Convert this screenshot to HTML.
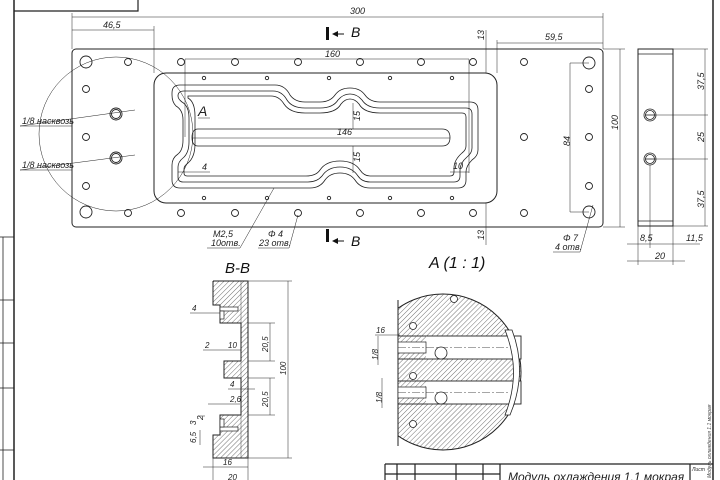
<!DOCTYPE html>
<html><head><meta charset="utf-8"><style>html,body{margin:0;padding:0;background:#fff}svg{display:block}</style></head><body>
<svg width="720" height="480" viewBox="0 0 720 480" xmlns="http://www.w3.org/2000/svg" font-family="Liberation Sans, sans-serif" font-style="italic" fill="none" stroke="#222" stroke-width="0.8">
<defs>
<pattern id="h" width="3.5" height="3.5" patternUnits="userSpaceOnUse" patternTransform="rotate(45)"><line x1="0" y1="0" x2="0" y2="3.5" stroke="#333" stroke-width="0.7"/></pattern>
</defs>
<!-- frame -->
<line x1="14" y1="0" x2="14" y2="480" stroke-width="1.5"/>
<polyline points="14,11 138,11 138,0" stroke-width="1.2"/>
<line x1="713" y1="0" x2="713" y2="480" stroke-width="1.5"/>
<line x1="0" y1="237" x2="14" y2="237"/><line x1="0" y1="300" x2="14" y2="300"/><line x1="0" y1="343" x2="14" y2="343"/><line x1="0" y1="388" x2="14" y2="388"/><line x1="0" y1="450" x2="14" y2="450"/>
<line x1="3" y1="237" x2="3" y2="480"/>
<!-- main plate -->
<rect x="72" y="49" width="531" height="178" rx="4" stroke-width="1"/>
<rect x="154" y="73" width="343" height="130" rx="12" stroke-width="1"/>
<!-- groove -->
<path d="M180,85 H275 Q285,85 290,95 Q295,102 305,102 H320 Q330,102 335,95 Q340,88 350,88 Q360,88 365,95 Q370,102 380,102 H470 Q478,102 478,110 V150 Q478,156 472,160 Q466,166 466,172 V180 Q466,188 458,188 H370 Q360,188 355,180 Q350,173 340,173 Q330,173 325,180 Q320,188 310,188 H180 Q172,188 172,180 V165 Q172,158 178,154 Q183,150 183,140 V120 Q183,110 176,106 Q172,102 172,95 V93 Q172,85 180,85 Z"/>
<path d="M184,91 H273 Q282,91 287,100 Q292,108 305,108 H320 Q333,108 338,100 Q343,94 350,94 Q357,94 362,100 Q367,108 380,108 H466 Q472,108 472,114 V148 Q472,153 467,157 Q460,163 460,170 V176 Q460,182 454,182 H370 Q362,182 358,176 Q352,167 340,167 Q328,167 322,176 Q317,182 308,182 H183 Q178,182 178,177 V167 Q178,162 183,158 Q189,153 189,142 V118 Q189,106 182,102 Q178,99 178,96 Q178,91 184,91 Z"/>
<path d="M188,96 H271 Q279,96 284,104 Q290,113 305,113 H320 Q336,113 341,104 Q345,99 350,99 Q355,99 359,104 Q364,113 380,113 H462 Q466,113 466,117 V146 Q466,150 462,153 Q454,160 454,168 V172 Q454,176 450,176 H370 Q364,176 360,170 Q354,161 340,161 Q326,161 320,170 Q316,176 306,176 H187 Q184,176 184,173 V169 Q184,166 188,163 Q195,157 195,144 V116 Q195,102 188,98 Z"/>
<!-- slot -->
<path d="M198,129 H442 Q450,129 450,137.5 Q450,146 442,146 H198 Q192,146 192,137.5 Q192,129 198,129 Z"/>
<!-- holes -->
<g stroke-width="0.9">
<circle cx="86" cy="62" r="6"/><circle cx="86" cy="212" r="6"/><circle cx="589" cy="63" r="6"/><circle cx="589" cy="212" r="6"/>
<circle cx="128" cy="62" r="3.5"/><circle cx="181" cy="62" r="3.5"/><circle cx="235" cy="62" r="3.5"/><circle cx="298" cy="62" r="3.5"/><circle cx="360" cy="62" r="3.5"/><circle cx="421" cy="62" r="3.5"/><circle cx="473" cy="62" r="3.5"/><circle cx="524" cy="62" r="3.5"/>
<circle cx="128" cy="213" r="3.5"/><circle cx="181" cy="213" r="3.5"/><circle cx="235" cy="213" r="3.5"/><circle cx="298" cy="213" r="3.5"/><circle cx="360" cy="213" r="3.5"/><circle cx="421" cy="213" r="3.5"/><circle cx="473" cy="213" r="3.5"/><circle cx="524" cy="213" r="3.5"/>
<circle cx="86" cy="89" r="3.5"/><circle cx="86" cy="137" r="3.5"/><circle cx="86" cy="186" r="3.5"/>
<circle cx="589" cy="89" r="3.5"/><circle cx="589" cy="137" r="3.5"/><circle cx="589" cy="186" r="3.5"/><circle cx="524" cy="137" r="3.5"/>
<circle cx="204" cy="78" r="1.7"/><circle cx="267" cy="78" r="1.7"/><circle cx="329" cy="78" r="1.7"/><circle cx="390" cy="78" r="1.7"/><circle cx="452" cy="78" r="1.7"/>
<circle cx="204" cy="198" r="1.7"/><circle cx="267" cy="198" r="1.7"/><circle cx="329" cy="198" r="1.7"/><circle cx="390" cy="198" r="1.7"/><circle cx="452" cy="198" r="1.7"/>
<circle cx="116" cy="114" r="6"/><circle cx="116" cy="114" r="4.5"/><circle cx="116" cy="158" r="6"/><circle cx="116" cy="158" r="4.5"/>
</g>
<circle cx="116" cy="134" r="77" stroke-width="0.5"/>
<!-- dimensions -->
<g stroke-width="0.5" fill="#222" font-size="9">
<line x1="72" y1="17" x2="603" y2="17"/><line x1="72" y1="13" x2="72" y2="49"/><line x1="603" y1="13" x2="603" y2="49"/>
<text x="350" y="14" stroke="none">300</text>
<line x1="72" y1="30" x2="154" y2="30"/><line x1="154" y1="26" x2="154" y2="73"/>
<text x="103" y="28" stroke="none">46,5</text>
<line x1="497" y1="43" x2="603" y2="43"/><line x1="497" y1="40" x2="497" y2="73"/>
<text x="545" y="40" stroke="none">59,5</text>
<line x1="185" y1="59" x2="469" y2="59"/><line x1="185" y1="59" x2="185" y2="137"/><line x1="469" y1="59" x2="469" y2="173"/>
<text x="325" y="57" stroke="none">160</text>
<line x1="192" y1="138" x2="450" y2="138"/><text x="337" y="135" stroke="none">146</text>
<line x1="486" y1="30" x2="486" y2="73"/><line x1="486" y1="203" x2="486" y2="245"/>
<text x="0" y="0" transform="translate(484,40) rotate(-90)" stroke="none">13</text>
<text x="0" y="0" transform="translate(484,240) rotate(-90)" stroke="none">13</text>
<line x1="620" y1="49" x2="620" y2="227"/><line x1="603" y1="49" x2="625" y2="49"/><line x1="603" y1="227" x2="625" y2="227"/>
<text x="0" y="0" transform="translate(618,130) rotate(-90)" stroke="none">100</text>
<line x1="570" y1="63" x2="570" y2="212"/><line x1="570" y1="63" x2="589" y2="63"/><line x1="570" y1="212" x2="589" y2="212"/>
<text x="0" y="0" transform="translate(570,146) rotate(-90)" stroke="none">84</text>
<line x1="353" y1="103" x2="353" y2="129"/><line x1="353" y1="146" x2="353" y2="173"/>
<text x="0" y="0" transform="translate(360,121) rotate(-90)" stroke="none">15</text>
<text x="0" y="0" transform="translate(360,162) rotate(-90)" stroke="none">15</text>
<line x1="178" y1="172" x2="210" y2="172"/><text x="202" y="170" stroke="none">4</text>
<line x1="450" y1="172" x2="469" y2="172"/><text x="453" y="169" stroke="none">10</text>
<line x1="20" y1="126" x2="135" y2="110"/><line x1="20" y1="126" x2="72" y2="126"/><text x="22" y="124" stroke="none">1/8 насквозь</text>
<line x1="20" y1="170" x2="135" y2="155"/><line x1="20" y1="170" x2="72" y2="170"/><text x="22" y="168" stroke="none">1/8 насквозь</text>
<line x1="240" y1="248" x2="274" y2="188"/><line x1="207" y1="248" x2="240" y2="248"/><text x="213" y="237" stroke="none">M2,5</text><text x="211" y="246" stroke="none">10отв.</text>
<line x1="289" y1="248" x2="298" y2="215"/><line x1="258" y1="248" x2="289" y2="248"/><text x="268" y="237" stroke="none">Φ 4</text><text x="259" y="246" stroke="none">23 отв.</text>
<line x1="580" y1="252" x2="593" y2="205"/><line x1="553" y1="252" x2="580" y2="252"/><text x="563" y="241" stroke="none">Φ 7</text><text x="555" y="250" stroke="none">4 отв.</text>
<line x1="198" y1="118" x2="210" y2="118"/><text x="198" y="116" stroke="none" font-size="14">A</text>
</g>
<!-- section arrows -->
<g fill="#111" stroke="none"><rect x="326" y="27" width="3" height="13"/><rect x="326" y="229" width="3" height="13"/>
<polygon points="332,34 338,31 338,37"/><rect x="337" y="33.5" width="7" height="1"/>
<polygon points="332,241 338,238 338,244"/><rect x="337" y="240.5" width="7" height="1"/>
<text x="351" y="37" font-size="14">B</text><text x="351" y="246" font-size="14">B</text>
<text x="429" y="268" font-size="16">A (1 : 1)</text>
<text x="225" y="273" font-size="15">B-B</text></g>
<!-- side view -->
<rect x="638" y="49" width="35" height="177" stroke-width="1"/>
<line x1="638" y1="54" x2="673" y2="54"/><line x1="638" y1="221" x2="673" y2="221"/>
<circle cx="650" cy="115" r="6"/><circle cx="650" cy="115" r="4.5"/><line x1="645" y1="115" x2="656" y2="115"/>
<circle cx="650" cy="159" r="6"/><circle cx="650" cy="159" r="4.5"/><line x1="645" y1="159" x2="656" y2="159"/>
<g stroke-width="0.5" fill="#222" font-size="9">
<line x1="705" y1="49" x2="705" y2="226"/><line x1="673" y1="49" x2="708" y2="49"/><line x1="656" y1="115" x2="708" y2="115"/><line x1="656" y1="159" x2="708" y2="159"/><line x1="673" y1="226" x2="708" y2="226"/>
<text x="0" y="0" transform="translate(704,90) rotate(-90)" stroke="none">37,5</text>
<text x="0" y="0" transform="translate(704,142) rotate(-90)" stroke="none">25</text>
<text x="0" y="0" transform="translate(704,208) rotate(-90)" stroke="none">37,5</text>
<line x1="627" y1="244" x2="700" y2="244"/><line x1="650" y1="165" x2="650" y2="248"/><line x1="638" y1="226" x2="638" y2="265"/><line x1="673" y1="226" x2="673" y2="265"/>
<text x="640" y="241" stroke="none">8,5</text><text x="686" y="241" stroke="none">11,5</text>
<line x1="627" y1="261" x2="685" y2="261"/><text x="655" y="259" stroke="none">20</text>
</g>
<!-- section B-B -->
<rect x="213" y="281" width="35" height="177" fill="url(#h)" stroke="none"/>
<polygon points="212,305 220,305 220,323 241,323 241,361 224,361 224,378 241,378 241,415 220,415 220,435 212,435" fill="#fff" stroke="none"/>
<polyline points="213,281 248,281 248,458 213,458 213,435 220,435 220,415 241,415 241,378 224,378 224,361 241,361 241,323 220,323 220,305 213,305 213,281" stroke-width="1"/>
<rect x="220" y="307" width="18" height="4" fill="#fff" stroke-width="0.7"/>
<rect x="220" y="311" width="4" height="8" fill="#fff" stroke-width="0.7"/>
<rect x="220" y="427" width="18" height="4" fill="#fff" stroke-width="0.7"/>
<rect x="220" y="419" width="4" height="8" fill="#fff" stroke-width="0.7"/>
<line x1="241" y1="281" x2="241" y2="458" stroke-width="0.4"/>
<g stroke-width="0.5" fill="#222" font-size="8">
<line x1="248" y1="281" x2="292" y2="281"/><line x1="248" y1="458" x2="292" y2="458"/><line x1="288" y1="281" x2="288" y2="458"/>
<text x="0" y="0" transform="translate(286,375) rotate(-90)" stroke="none">100</text>
<line x1="248" y1="323" x2="275" y2="323"/><line x1="248" y1="361" x2="275" y2="361"/><line x1="270" y1="323" x2="270" y2="361"/>
<text x="0" y="0" transform="translate(268,352) rotate(-90)" stroke="none">20,5</text>
<line x1="248" y1="378" x2="275" y2="378"/><line x1="248" y1="415" x2="275" y2="415"/><line x1="270" y1="378" x2="270" y2="415"/>
<text x="0" y="0" transform="translate(268,407) rotate(-90)" stroke="none">20,5</text>
<line x1="190" y1="313" x2="220" y2="313"/><text x="192" y="311" stroke="none">4</text>
<line x1="203" y1="350" x2="241" y2="350"/><text x="205" y="348" stroke="none">2</text><text x="228" y="348" stroke="none">10</text>
<line x1="228" y1="389" x2="255" y2="389"/><text x="230" y="387" stroke="none">4</text>
<line x1="208" y1="404" x2="240" y2="404"/><text x="230" y="402" stroke="none">2,6</text>
<line x1="198" y1="416" x2="205" y2="416"/><text x="0" y="0" transform="translate(203,420) rotate(-90)" stroke="none">2</text>
<text x="0" y="0" transform="translate(196,425) rotate(-90)" stroke="none">3</text>
<text x="0" y="0" transform="translate(196,443) rotate(-90)" stroke="none">6,5</text>
<line x1="200" y1="430" x2="200" y2="445"/>
<line x1="203" y1="467" x2="248" y2="467"/><text x="223" y="465" stroke="none">16</text>
<line x1="213" y1="458" x2="213" y2="480"/><line x1="248" y1="458" x2="248" y2="480"/>
<text x="228" y="480" stroke="none">20</text>
</g>
<!-- detail A -->
<clipPath id="ca"><rect x="398" y="280" width="140" height="180"/></clipPath>
<g clip-path="url(#ca)">
<circle cx="443" cy="372" r="78" fill="url(#h)" stroke-width="1"/>
</g>
<line x1="398" y1="300" x2="398" y2="446" stroke-width="1"/>
<rect x="398" y="336" width="123" height="23" fill="#fff" stroke-width="0.9"/>
<rect x="398" y="381" width="123" height="23" fill="#fff" stroke-width="0.9"/>
<rect x="398" y="336" width="28" height="23" fill="url(#h)" stroke="none"/>
<rect x="398" y="381" width="28" height="23" fill="url(#h)" stroke="none"/>
<rect x="398" y="342" width="28" height="11" fill="#fff" stroke-width="0.7"/>
<rect x="398" y="387" width="28" height="11" fill="#fff" stroke-width="0.7"/>
<line x1="398" y1="347.5" x2="510" y2="347.5" stroke-width="0.4" stroke-dasharray="8,2,2,2"/>
<line x1="398" y1="392.5" x2="510" y2="392.5" stroke-width="0.4" stroke-dasharray="8,2,2,2"/>
<path d="M505,330 Q522,372 505,415 L510,415 Q528,372 512,330 Z" fill="#fff" stroke-width="0.8"/>
<circle cx="441" cy="353" r="6" fill="#fff"/><circle cx="441" cy="398" r="6" fill="#fff"/>
<circle cx="413" cy="326" r="3.5" fill="#fff"/><circle cx="413" cy="376" r="3.5" fill="#fff"/><circle cx="413" cy="424" r="3.5" fill="#fff"/><circle cx="454" cy="299" r="3.5" fill="#fff"/>
<g stroke-width="0.5" fill="#222" font-size="8">
<line x1="375" y1="335" x2="400" y2="335"/><text x="376" y="333" stroke="none">16</text>
<line x1="378" y1="336" x2="378" y2="365"/><text x="0" y="0" transform="translate(378,360) rotate(-90)" stroke="none">1/8</text>
<line x1="382" y1="378" x2="382" y2="408"/><text x="0" y="0" transform="translate(382,403) rotate(-90)" stroke="none">1/8</text>
</g>
<!-- title block -->
<g stroke-width="1.2"><line x1="385" y1="464" x2="713" y2="464"/><line x1="385" y1="464" x2="385" y2="480"/><line x1="397" y1="464" x2="397" y2="480"/><line x1="415" y1="464" x2="415" y2="480"/><line x1="456" y1="464" x2="456" y2="480"/><line x1="483" y1="464" x2="483" y2="480"/><line x1="500" y1="464" x2="500" y2="480"/><line x1="690" y1="464" x2="690" y2="480"/><line x1="385" y1="474" x2="500" y2="474"/></g>
<text x="508" y="481" font-size="12" fill="#222" stroke="none">Модуль охлаждения 1.1 мокрая</text>
<text x="692" y="471" font-size="5" fill="#222" stroke="none">Лист</text>
<text x="0" y="0" transform="translate(711,478) rotate(-90)" font-size="5" fill="#444" stroke="none">Модуль охлаждения 1.1 мокрая</text>
</svg>
</body></html>
